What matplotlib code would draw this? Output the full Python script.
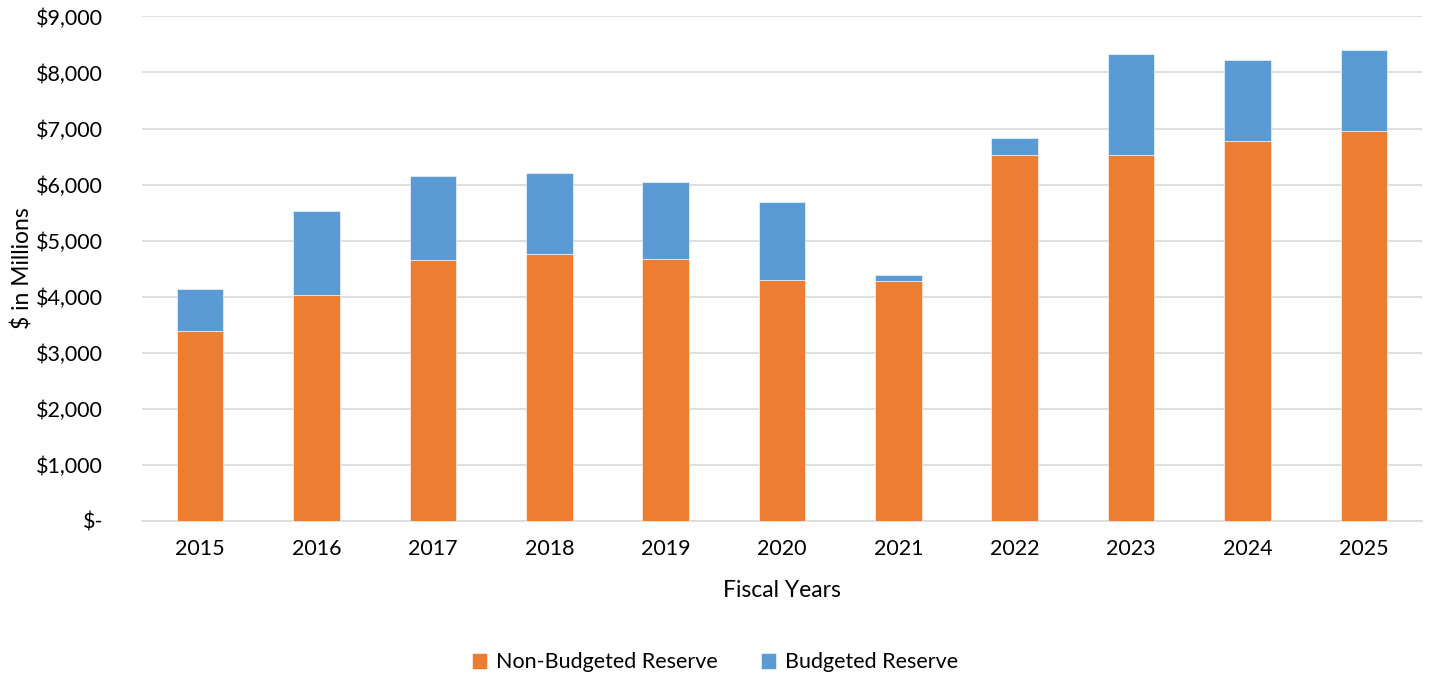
import numpy as np
import matplotlib
matplotlib.use('Agg')
import matplotlib.pyplot as plt
from matplotlib.ticker import FuncFormatter, MultipleLocator

# Reserve balances by fiscal year ($ in millions)
years = ['2015', '2016', '2017', '2018', '2019', '2020',
         '2021', '2022', '2023', '2024', '2025']
non_budgeted = [3390, 4030, 4650, 4757, 4673, 4298, 4286, 6530, 6530, 6775, 6959]
budgeted = [750, 1500, 1505, 1453, 1377, 1392, 107, 299, 1804, 1452, 1446]

plt.rcParams['font.family'] = ['Lato', 'DejaVu Sans']

colors = {
    'non_budgeted': '#ED7D31',
    'budgeted': '#5B9BD5',
    'grid': '#D9D9D9',
}


def money(v, pos):
    if v == 0:
        return '$-'
    return f'${v:,.0f}'


fig = plt.figure(figsize=(14.3, 6.75), dpi=100)
ax = fig.add_axes([0.0993, 0.2286, 0.8951, 0.747])

x = np.arange(len(years))
ax.bar(x, non_budgeted, width=0.4, color=colors['non_budgeted'],
       edgecolor='white', linewidth=0.4, label='Non-Budgeted Reserve', zorder=3)
ax.bar(x, budgeted, width=0.4, bottom=non_budgeted, color=colors['budgeted'],
       edgecolor='white', linewidth=0.4, label='Budgeted Reserve', zorder=3)

ax.set_xlim(-0.5, len(years) - 0.5)
ax.set_ylim(0, 9000)
ax.yaxis.set_major_locator(MultipleLocator(1000))
ax.yaxis.set_major_formatter(FuncFormatter(money))
ax.set_xticks(x)
ax.set_xticklabels(years)

ax.grid(axis='y', color=colors['grid'], linewidth=1.2, zorder=0)
ax.set_axisbelow(True)
for side in ['top', 'right', 'left']:
    ax.spines[side].set_visible(False)
ax.spines['bottom'].set_color(colors['grid'])
ax.spines['bottom'].set_linewidth(1.2)
ax.tick_params(axis='both', length=0, labelsize=15.5, colors='#000000')
ax.tick_params(axis='x', pad=13)
ax.tick_params(axis='y', pad=28)

ax.set_xlabel('Fiscal Years', fontsize=16.5, labelpad=15)
ax.set_ylabel('$ in Millions', fontsize=16.5, labelpad=2)

fig.legend(loc='lower center', bbox_to_anchor=(0.5, -0.025), ncol=2,
           frameon=False, fontsize=15.5, handlelength=0.7, handleheight=0.7,
           handletextpad=0.4, columnspacing=2.0)

plt.savefig('out.png', dpi=100, facecolor='white')
